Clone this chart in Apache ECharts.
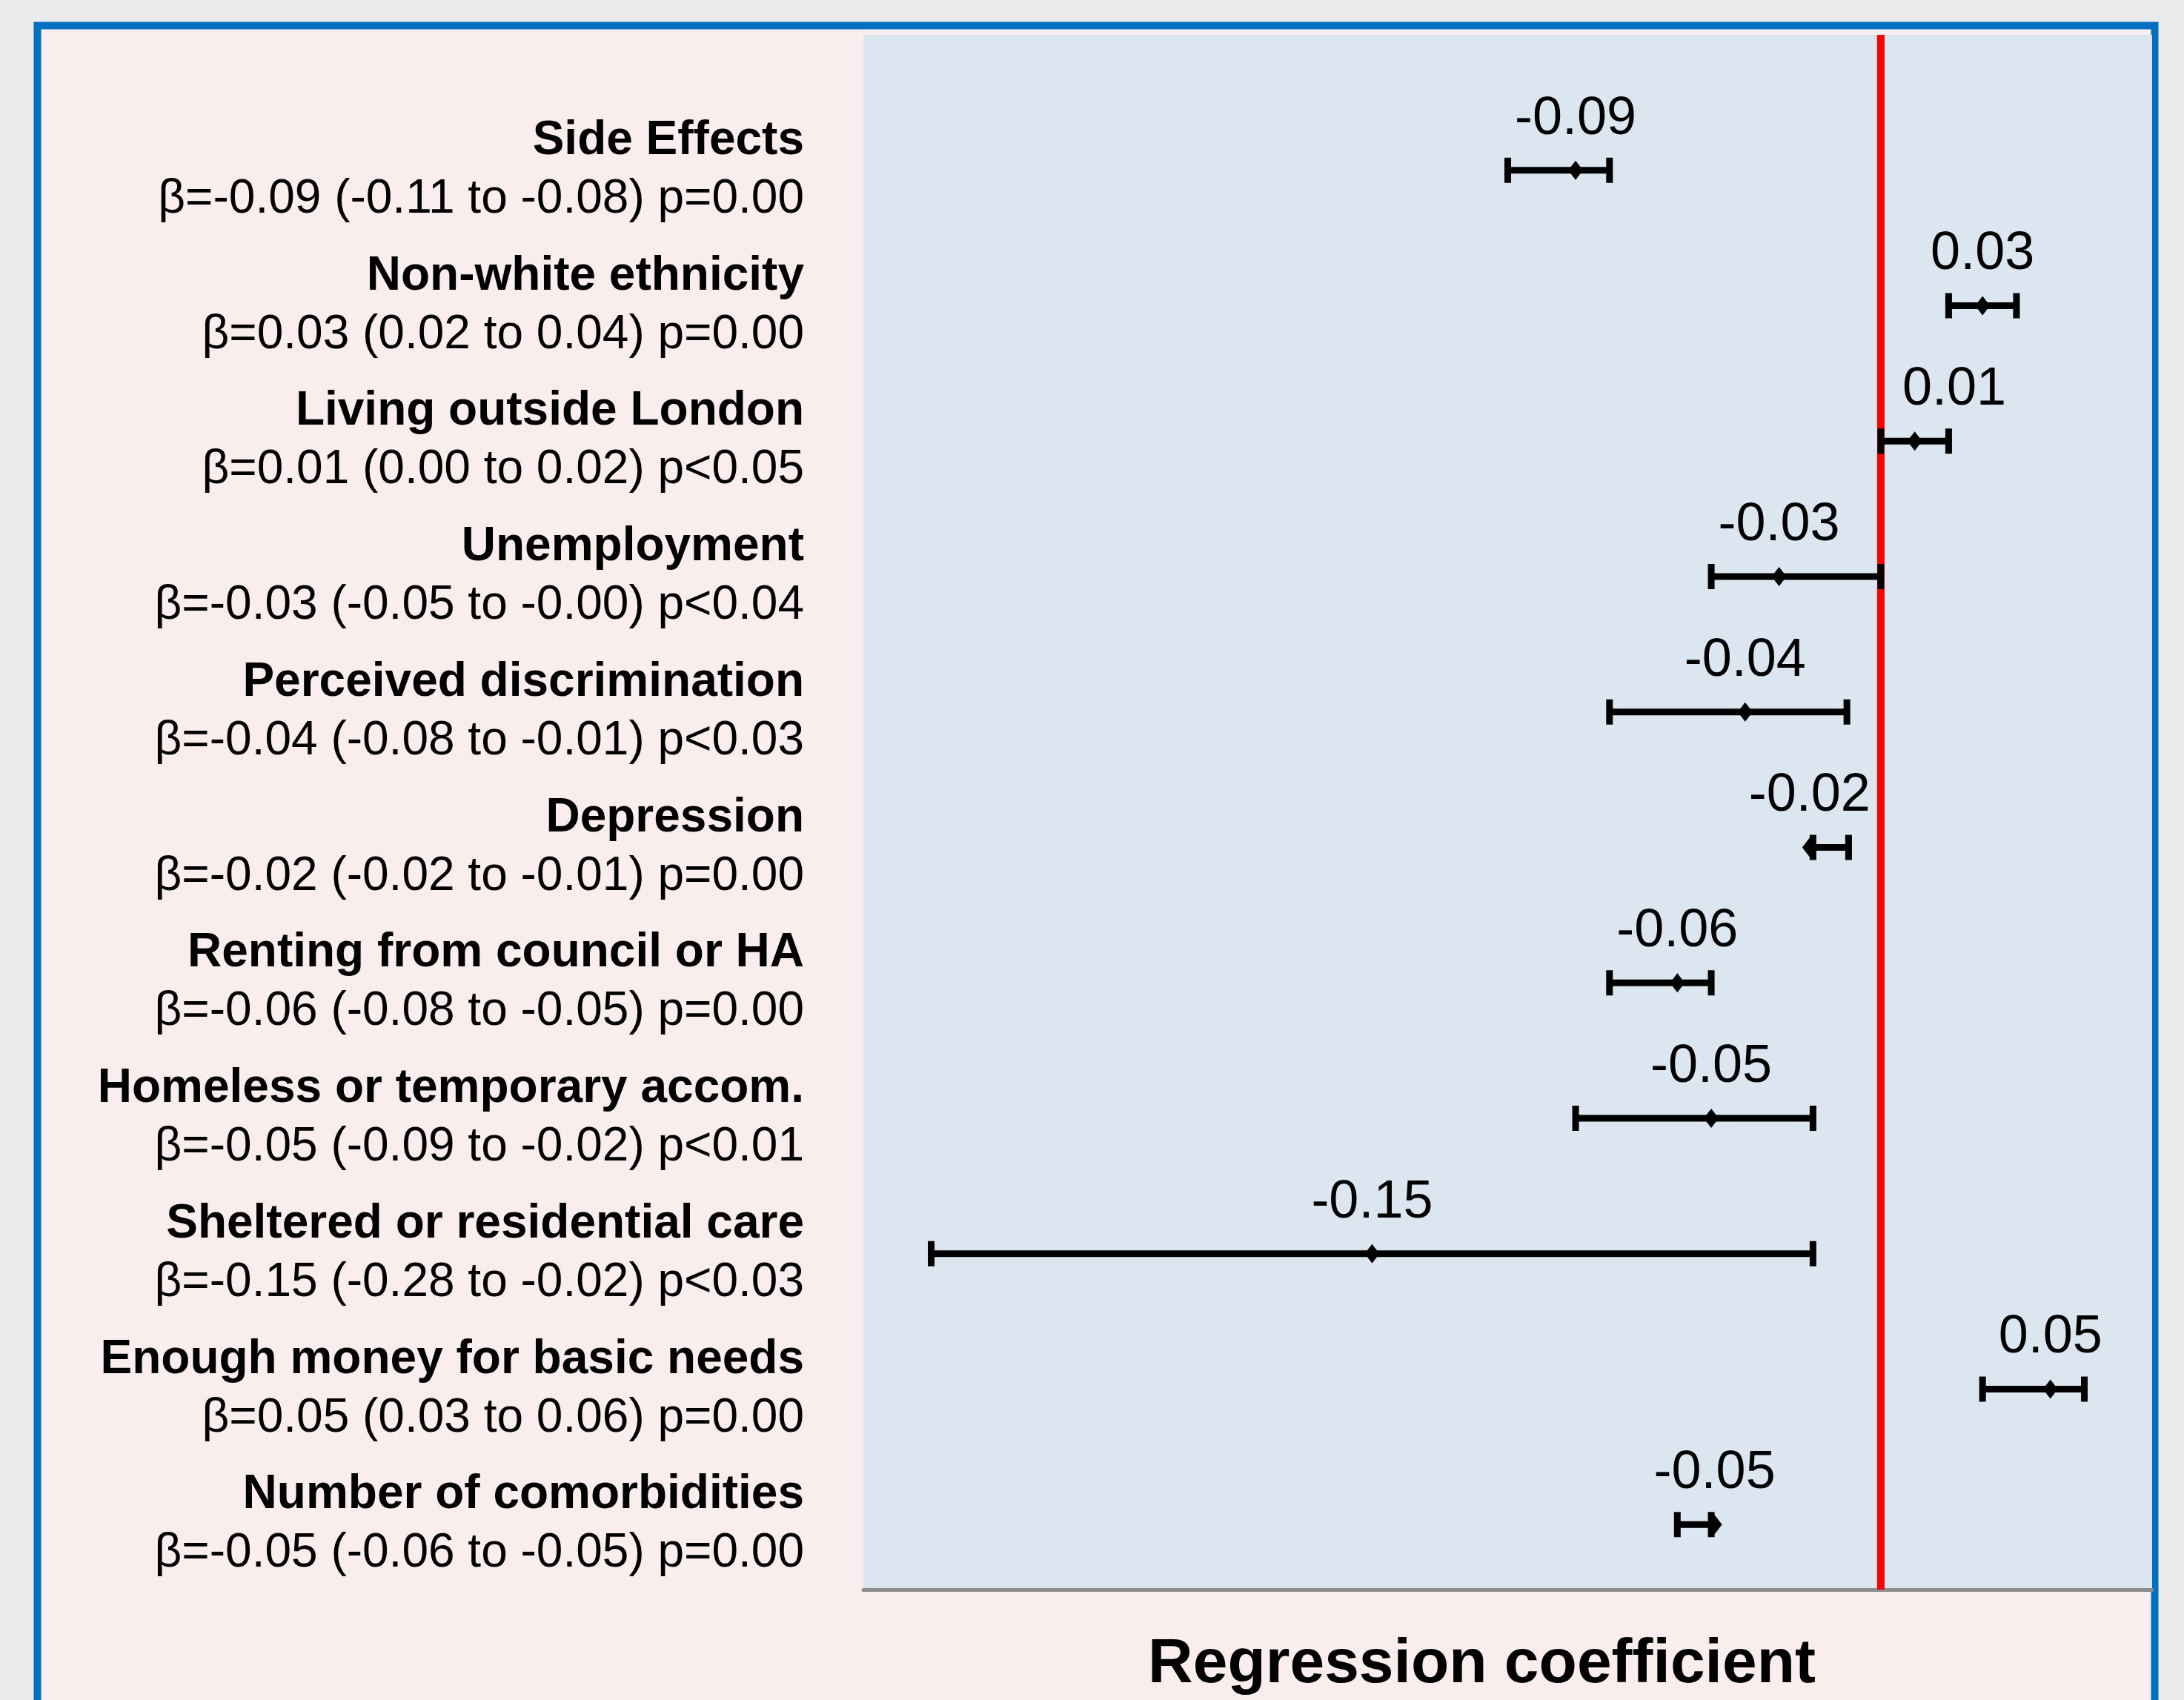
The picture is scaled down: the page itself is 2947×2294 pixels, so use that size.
<!DOCTYPE html>
<html>
<head>
<meta charset="utf-8">
<script src="https://cdn.jsdelivr.net/npm/echarts@6/dist/echarts.min.js"></script>
<style>
html,body{margin:0;padding:0;background:#ebebed;}
#chart{width:2947px;height:2294px;}
</style>
</head>
<body>
<div id="chart"></div>
<script>
// ---- data ----
const categories = ['Side Effects', 'Non-white ethnicity', 'Living outside London', 'Unemployment',
  'Perceived discrimination', 'Depression', 'Renting from council or HA', 'Homeless or temporary accom.',
  'Sheltered or residential care', 'Enough money for basic needs', 'Number of comorbidities'];
const statText = ['β=-0.09 (-0.11 to -0.08) p=0.00', 'β=0.03 (0.02 to 0.04) p=0.00',
  'β=0.01 (0.00 to 0.02) p<0.05', 'β=-0.03 (-0.05 to -0.00) p<0.04', 'β=-0.04 (-0.08 to -0.01) p<0.03',
  'β=-0.02 (-0.02 to -0.01) p=0.00', 'β=-0.06 (-0.08 to -0.05) p=0.00', 'β=-0.05 (-0.09 to -0.02) p<0.01',
  'β=-0.15 (-0.28 to -0.02) p<0.03', 'β=0.05 (0.03 to 0.06) p=0.00', 'β=-0.05 (-0.06 to -0.05) p=0.00'];
const beta   = [-0.090, 0.030, 0.010, -0.030, -0.040, -0.021, -0.060, -0.050, -0.150, 0.050, -0.049];
const ciLow  = [-0.110, 0.020, 0.000, -0.050, -0.080, -0.020, -0.080, -0.090, -0.280, 0.030, -0.060];
const ciHigh = [-0.080, 0.040, 0.020,  0.000, -0.010, -0.0095, -0.050, -0.020, -0.020, 0.060, -0.050];
const pointLabels = ['-0.09', '0.03', '0.01', '-0.03', '-0.04', '-0.02', '-0.06', '-0.05', '-0.15', '0.05', '-0.05'];
const xMin = -0.3, xMax = 0.08;
const yMin = 0, yMax = 11.48;
const axisTitle = 'Regression coefficient';

// ---- build ----
const FONT = '"Liberation Sans", Arial, sans-serif';
const rows = categories.map((c, i) => [ciLow[i], ciHigh[i], beta[i], i + 1, i]);

const measureCtx = document.createElement('canvas').getContext('2d');
measureCtx.font = '72px ' + FONT;

const chart = echarts.init(document.getElementById('chart'), null, {renderer: 'canvas'});
chart.setOption({
  backgroundColor: '#ebebed',
  animation: false,
  graphic: {
    elements: [{
      type: 'rect', z: -10, silent: true,
      shape: {x: 50.5, y: 34.5, width: 2857, height: 2500},
      style: {fill: '#f9eded', stroke: '#0070c0', lineWidth: 10}
    }]
  },
  grid: {left: 1165, right: 43, top: 47, bottom: 144, show: true, backgroundColor: '#dce6f1', borderWidth: 0},
  xAxis: {
    type: 'value', min: xMin, max: xMax,
    axisLine: {show: true, onZero: false, lineStyle: {color: '#8c8c8c', width: 5}},
    axisTick: {show: false}, axisLabel: {show: false}, splitLine: {show: false},
    name: axisTitle, nameLocation: 'middle', nameGap: 60,
    nameTextStyle: {fontFamily: FONT, fontWeight: 'bold', fontSize: 84, color: '#000', padding: [0, 70, 0, 0]}
  },
  yAxis: {
    type: 'value', inverse: true, min: yMin, max: yMax, interval: 1,
    axisLine: {show: false}, axisTick: {show: false}, splitLine: {show: false},
    axisLabel: {
      show: true, margin: 80, align: 'right', showMaxLabel: false,
      formatter: function (v) {
        const i = Math.round(v) - 1;
        if (Math.abs(v - Math.round(v)) > 1e-6 || i < 0 || i >= categories.length) return '';
        return '{n|' + categories[i] + '}\n{b|' + statText[i] + '}';
      },
      rich: {
        n: {fontFamily: FONT, fontWeight: 'bold', fontSize: 64, lineHeight: 79, color: '#000', align: 'right'},
        b: {fontFamily: FONT, fontSize: 64, lineHeight: 79, color: '#000', align: 'right'}
      }
    }
  },
  series: [
    {
      type: 'line', z: 1, silent: true, symbol: 'none',
      data: [[0, yMin], [0, yMax]],
      lineStyle: {color: '#ff0000', width: 10}
    },
    {
      type: 'custom', z: 5, silent: true,
      data: rows,
      encode: {x: [0, 1, 2], y: 3},
      renderItem: function (params, api) {
        const yv = api.value(3);
        const lo = api.coord([api.value(0), yv]);
        const hi = api.coord([api.value(1), yv]);
        const pt = api.coord([api.value(2), yv]);
        const zeroX = api.coord([0, yv])[0];
        const idx = api.value(4);
        const y = pt[1];
        const capH = 17;
        const txt = pointLabels[idx];
        let lx = pt[0];
        const w = measureCtx.measureText(txt).width;
        if (api.value(2) > 0 && lx - w / 2 < zeroX + 29) lx = zeroX + 29 + w / 2;
        const black = {stroke: '#000', lineWidth: 9};
        return {
          type: 'group',
          children: [
            {type: 'line', shape: {x1: lo[0], y1: y, x2: hi[0], y2: y}, style: black},
            {type: 'line', shape: {x1: lo[0], y1: y - capH, x2: lo[0], y2: y + capH}, style: black},
            {type: 'line', shape: {x1: hi[0], y1: y - capH, x2: hi[0], y2: y + capH}, style: black},
            {type: 'polygon', shape: {points: [[pt[0], y - 13], [pt[0] + 10, y], [pt[0], y + 13], [pt[0] - 10, y]]},
              style: {fill: '#000'}},
            {type: 'text', style: {text: txt, x: lx, y: y - 69, align: 'center', verticalAlign: 'middle',
              fontSize: 72, fontFamily: FONT, fill: '#000'}}
          ]
        };
      }
    }
  ]
});
</script>
</body>
</html>
